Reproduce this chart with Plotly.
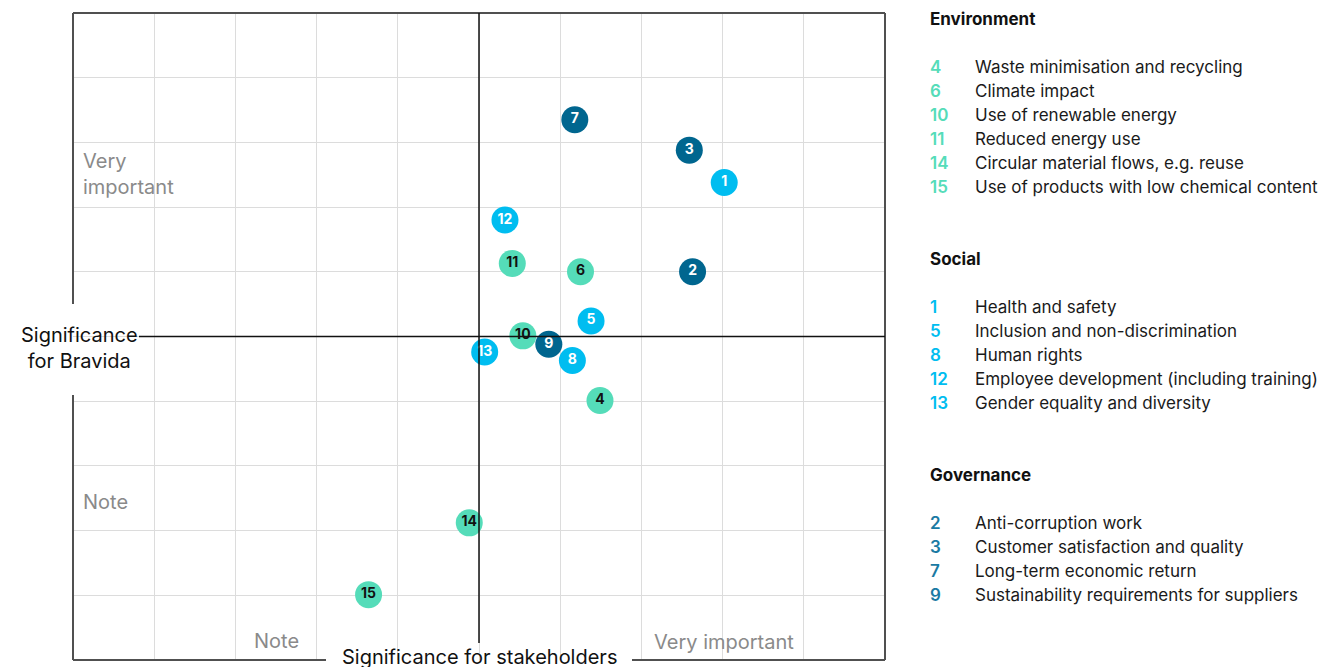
import plotly.graph_objects as go

# ---------------- data ----------------
ids = [1, 2, 3, 4, 5, 6, 7, 8, 9, 10, 11, 12, 13, 14, 15]
stakeholders = [8.02, 7.63, 7.59, 6.49, 6.38, 6.25, 6.18, 6.15, 5.86, 5.54, 5.41, 5.32, 5.07, 4.88, 3.64]
bravida = [7.38, 6.00, 7.88, 4.01, 5.24, 6.00, 8.35, 4.63, 4.88, 5.01, 6.13, 6.80, 4.76, 2.12, 1.01]
category = ["Social", "Governance", "Governance", "Environment", "Social", "Environment",
            "Governance", "Social", "Governance", "Environment", "Environment", "Social",
            "Social", "Environment", "Environment"]

env_ids = [4, 6, 10, 11, 14, 15]
env_labels = ["Waste minimisation and recycling", "Climate impact", "Use of renewable energy",
              "Reduced energy use", "Circular material flows, e.g. reuse",
              "Use of products with low chemical content"]
soc_ids = [1, 5, 8, 12, 13]
soc_labels = ["Health and safety", "Inclusion and non-discrimination", "Human rights",
              "Employee development (including training)", "Gender equality and diversity"]
gov_ids = [2, 3, 7, 9]
gov_labels = ["Anti-corruption work", "Customer satisfaction and quality",
              "Long-term economic return", "Sustainability requirements for suppliers"]

colors = {"Environment": "#55dcb9", "Social": "#00bdf0", "Governance": "#00668f"}
text_colors = {"Environment": "#111111", "Social": "#ffffff", "Governance": "#ffffff"}
legend_num_colors = {"Environment": "#55dcb9", "Social": "#00bdf0", "Governance": "#1a7aa3"}

FONT = "Inter, Roboto, sans-serif"

# ---------------- layout geometry (pixels) ----------------
W, H = 1324, 667
L, R, T, B = 73, 885, 13, 660


def px(x):
    return (x - L) / (R - L)


def py(y):
    return (B - y) / (B - T)


fig = go.Figure()

order = ["Environment", "Social", "Governance"]
for cat in order:
    idx = [i for i, c in enumerate(category) if c == cat]
    fig.add_trace(go.Scatter(
        x=[stakeholders[i] for i in idx],
        y=[bravida[i] for i in idx],
        text=[str(ids[i]) for i in idx],
        mode="markers+text",
        textposition="middle center",
        marker=dict(size=27, color=colors[cat], line=dict(width=0)),
        textfont=dict(family=FONT, size=14, color=text_colors[cat], weight="bold"),
        hoverinfo="skip",
        showlegend=False,
        cliponaxis=False,
    ))

shapes = []
border = dict(color="#505050", width=2)
center = dict(color="#111111", width=1.5)
# border segments (with gaps for axis titles)
shapes.append(dict(type="line", xref="paper", yref="paper", x0=0, x1=1, y0=1, y1=1, line=border))
shapes.append(dict(type="line", xref="paper", yref="paper", x0=1, x1=1, y0=0, y1=1, line=border))
shapes.append(dict(type="line", xref="paper", yref="paper", x0=0, x1=px(326), y0=0, y1=0, line=border))
shapes.append(dict(type="line", xref="paper", yref="paper", x0=px(632), x1=1, y0=0, y1=0, line=border))
shapes.append(dict(type="line", xref="paper", yref="paper", x0=0, x1=0, y0=py(304), y1=1, line=border))
shapes.append(dict(type="line", xref="paper", yref="paper", x0=0, x1=0, y0=0, y1=py(395), line=border))
# center cross lines
shapes.append(dict(type="line", xref="paper", yref="paper", x0=0.5, x1=0.5, y0=py(643), y1=1, line=center))
shapes.append(dict(type="line", xref="paper", yref="paper", x0=px(139), x1=1, y0=0.5, y1=0.5, line=center))
fig.update_layout(shapes=shapes)

ann = []
# axis titles
ann.append(dict(text="Significance<br>for Bravida", x=px(79), y=py(348), xref="paper", yref="paper",
                showarrow=False, xanchor="center", yanchor="middle",
                font=dict(family=FONT, size=20, color="#111111"), align="center"))
ann.append(dict(text="Significance for stakeholders", x=0.5, y=py(657), xref="paper", yref="paper",
                showarrow=False, xanchor="center", yanchor="middle",
                font=dict(family=FONT, size=20, color="#111111")))
# quadrant labels
gray = "#8a8a8a"
ann.append(dict(text="Very<br>important", x=px(81), y=py(174), xref="paper", yref="paper",
                showarrow=False, xanchor="left", yanchor="middle", align="left",
                font=dict(family=FONT, size=20, color=gray)))
ann.append(dict(text="Note", x=px(81), y=py(502), xref="paper", yref="paper",
                showarrow=False, xanchor="left", yanchor="middle",
                font=dict(family=FONT, size=20, color=gray)))
ann.append(dict(text="Note", x=px(276), y=py(641), xref="paper", yref="paper",
                showarrow=False, xanchor="center", yanchor="middle",
                font=dict(family=FONT, size=20, color=gray)))
ann.append(dict(text="Very important", x=px(724), y=py(642), xref="paper", yref="paper",
                showarrow=False, xanchor="center", yanchor="middle",
                font=dict(family=FONT, size=20, color=gray)))

# side legend
groups = [("Environment", env_ids, env_labels, 19),
          ("Social", soc_ids, soc_labels, 259),
          ("Governance", gov_ids, gov_labels, 475)]
for name, gids, glabels, y0 in groups:
    ann.append(dict(text="<b>" + name + "</b>", x=px(928), y=py(y0), xref="paper", yref="paper",
                    showarrow=False, xanchor="left", yanchor="middle",
                    font=dict(family=FONT, size=17, color="#111111")))
    for k, (gid, lab) in enumerate(zip(gids, glabels)):
        yy = y0 + 48 + 24 * k
        ann.append(dict(text=str(gid), x=px(928), y=py(yy), xref="paper", yref="paper",
                        showarrow=False, xanchor="left", yanchor="middle",
                        font=dict(family=FONT, size=17, color=legend_num_colors[name], weight=600)))
        ann.append(dict(text=lab, x=px(973), y=py(yy), xref="paper", yref="paper",
                        showarrow=False, xanchor="left", yanchor="middle",
                        font=dict(family=FONT, size=17, color="#1a1a1a")))
fig.update_layout(annotations=ann)

fig.update_layout(
    width=W, height=H,
    margin=dict(l=L, r=W - R, t=T, b=H - B, pad=0),
    paper_bgcolor="white", plot_bgcolor="white",
    xaxis=dict(range=[0, 10], dtick=1, tick0=0, showgrid=True, gridcolor="#dcdcdc", gridwidth=1,
               zeroline=False, showticklabels=False, ticks="", showline=False, fixedrange=True),
    yaxis=dict(range=[0, 10], dtick=1, tick0=0, showgrid=True, gridcolor="#dcdcdc", gridwidth=1,
               zeroline=False, showticklabels=False, ticks="", showline=False, fixedrange=True),
)

fig.write_html("out.html", config={"displayModeBar": False})
